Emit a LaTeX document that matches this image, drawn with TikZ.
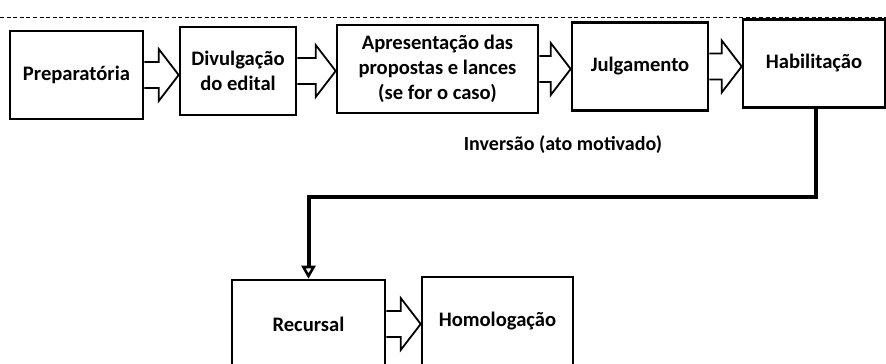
\documentclass[tikz,border=0pt]{standalone}
\usepackage{fontspec}
\setmainfont{Carlito}
\usetikzlibrary{calc,arrows.meta}

\tikzset{
  etapa/.style={draw,line width=1.3pt,minimum height=44pt,inner sep=2pt,align=center,
    font=\fontsize{10.3}{12.4}\selectfont\bfseries},
  seta/.style={line width=0.9pt,
    to path={($(\tikztostart)+(0,-13)$) -| ($(\tikztotarget)+(-20,-26)$)
      -- (\tikztotarget) -- ($(\tikztotarget)+(-20,26)$) |- ($(\tikztostart)+(0,13)$)}},
  desvio/.style={line width=2pt,-{Triangle[open,width=7pt,length=6.5pt,line width=1.3pt]}}
}

\begin{document}
\begin{tikzpicture}[x=0.5pt,y=-0.5pt]
        \useasboundingbox (0,0) rectangle (886,363);
        \clip (0,0) rectangle (886,363);
        % linha tracejada do topo
        \coordinate (tl) at (0,18);
        \coordinate (tr) at (886,18);
        \draw[line width=0.5pt,dash pattern=on 2pt off 1.3pt] (tl)--(tr);
        % fases
        \node[etapa,minimum width=66.5pt] (prep) at (76.5,75) {Preparatória};
        \node[etapa,minimum width=58pt] (divul) at (238,71) {Divulgação\\do edital};
        \node[etapa,minimum width=100.5pt] (apres) at (437.5,69) {Apresentação das\\propostas e lances\\(se for o caso)};
        \node[etapa,minimum width=68pt] (julg) at (640,66.5) {Julgamento};
        \node[etapa,minimum width=71pt] (habil) at (814,63.5) {Habilitação};
        \node[etapa,minimum width=76.5pt] (recur) at (308.5,324) {Recursal};
        \node[etapa,minimum width=75.5pt] (homol) at (497.5,321) {Homologação};
        \node[font=\fontsize{10}{12}\selectfont\bfseries] (inver) at (563,145) {Inversão (ato motivado)};
        % setas largas
        \draw[seta] (prep.east) to (prep.east -| divul.west);
        \draw[seta] (divul.east) to (divul.east -| apres.west);
        \draw[seta] (apres.east) to (apres.east -| julg.west);
        \draw[seta] (julg.east) to (julg.east -| habil.west);
        \draw[seta] (recur.east) to (recur.east -| homol.west);
        % desvio para a fase recursal
        \coordinate (dobra) at (816,197);
        \draw[desvio] (habil.south -| dobra) -- (dobra) -| (recur.north);
\end{tikzpicture}
\end{document}
